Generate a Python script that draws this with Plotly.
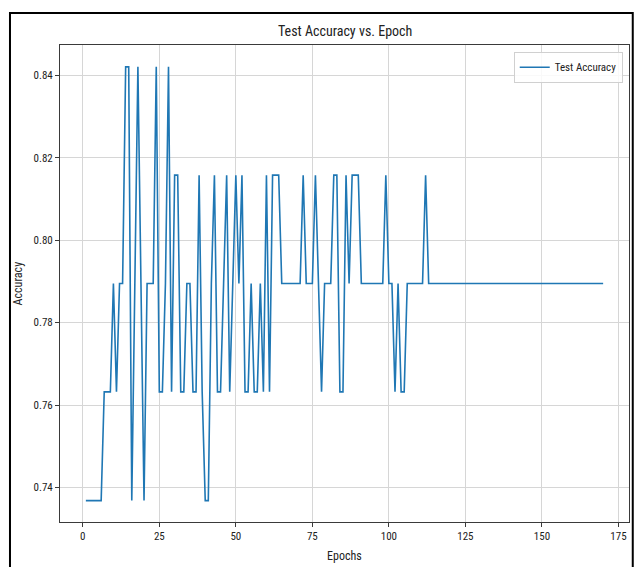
import plotly.graph_objects as go

# ---- data ----
epochs = list(range(1, 171))
test_accuracy = [
    0.7368, 0.7368, 0.7368, 0.7368, 0.7368, 0.7368, 0.7632, 0.7632, 0.7632, 0.7895,  # 1-10
    0.7632, 0.7895, 0.7895, 0.8421, 0.8421, 0.7368, 0.7895, 0.8421, 0.7895, 0.7368,  # 11-20
    0.7895, 0.7895, 0.7895, 0.8421, 0.7632, 0.7632, 0.7895, 0.8421, 0.7632, 0.8158,  # 21-30
    0.8158, 0.7632, 0.7632, 0.7895, 0.7895, 0.7632, 0.7632, 0.8158, 0.7632, 0.7368,  # 31-40
    0.7368, 0.7895, 0.8158, 0.7632, 0.7632, 0.7895, 0.8158, 0.7632, 0.7895, 0.8158,  # 41-50
    0.7895, 0.8158, 0.7632, 0.7632, 0.7895, 0.7632, 0.7632, 0.7895, 0.7632, 0.8158,  # 51-60
    0.7632, 0.8158, 0.8158, 0.8158, 0.7895, 0.7895, 0.7895, 0.7895, 0.7895, 0.7895,  # 61-70
    0.7895, 0.8158, 0.7895, 0.7895, 0.7895, 0.8158, 0.7895, 0.7632, 0.7895, 0.7895,  # 71-80
    0.7895, 0.8158, 0.8158, 0.7632, 0.7632, 0.8158, 0.7895, 0.8158, 0.8158, 0.8158,  # 81-90
    0.7895, 0.7895, 0.7895, 0.7895, 0.7895, 0.7895, 0.7895, 0.7895, 0.8158, 0.7895,  # 91-100
    0.7895, 0.7632, 0.7895, 0.7632, 0.7632, 0.7895, 0.7895, 0.7895, 0.7895, 0.7895,  # 101-110
    0.7895, 0.8158, 0.7895, 0.7895, 0.7895, 0.7895, 0.7895, 0.7895, 0.7895, 0.7895,  # 111-120
    0.7895, 0.7895, 0.7895, 0.7895, 0.7895, 0.7895, 0.7895, 0.7895, 0.7895, 0.7895,  # 121-130
    0.7895, 0.7895, 0.7895, 0.7895, 0.7895, 0.7895, 0.7895, 0.7895, 0.7895, 0.7895,  # 131-140
    0.7895, 0.7895, 0.7895, 0.7895, 0.7895, 0.7895, 0.7895, 0.7895, 0.7895, 0.7895,  # 141-150
    0.7895, 0.7895, 0.7895, 0.7895, 0.7895, 0.7895, 0.7895, 0.7895, 0.7895, 0.7895,  # 151-160
    0.7895, 0.7895, 0.7895, 0.7895, 0.7895, 0.7895, 0.7895, 0.7895, 0.7895, 0.7895,  # 161-170
]
x_ticks = [0, 25, 50, 75, 100, 125, 150, 175]
y_ticks = [0.74, 0.76, 0.78, 0.80, 0.82, 0.84]

title_text = "Test Accuracy vs. Epoch"
x_label = "Epochs"
y_label = "Accuracy"
series_name = "Test Accuracy"

FONT = "Liberation Sans Narrow, Roboto Condensed, Liberation Sans, DejaVu Sans, sans-serif"
GRID = "#d6d6d6"
AXIS = "#3a3a3a"

fig = go.Figure()
fig.add_trace(go.Scatter(
    x=epochs, y=test_accuracy, mode="lines", name=series_name,
    line=dict(color="#1f77b4", width=1.6),
))

fig.update_layout(
    width=638, height=567,
    margin=dict(l=60, r=9, t=45, b=45),
    paper_bgcolor="white", plot_bgcolor="white",
    font=dict(family=FONT, size=11, color="#222222"),
    title=dict(text=title_text, x=0.541, xanchor="center", y=0.945, yanchor="middle",
               font=dict(family=FONT, size=14, color="#222222")),
    showlegend=True,
    legend=dict(x=0.989, xanchor="right", y=0.986, yanchor="top",
                bgcolor="rgba(255,255,255,0.85)", bordercolor="#d0d0d0", borderwidth=1,
                font=dict(family=FONT, size=11, color="#222222"), itemwidth=30),
    xaxis=dict(range=[-7.45, 178.45], tickvals=x_ticks, ticktext=[str(v) for v in x_ticks],
               showgrid=True, gridcolor=GRID, gridwidth=1, zeroline=False,
               showline=True, linecolor=AXIS, linewidth=1, mirror=True,
               ticks="outside", ticklen=4, tickcolor=AXIS),
    yaxis=dict(range=[0.7316, 0.8474], tickvals=y_ticks, tickformat=".2f",
               showgrid=True, gridcolor=GRID, gridwidth=1, zeroline=False,
               showline=True, linecolor=AXIS, linewidth=1, mirror=True,
               ticks="outside", ticklen=4, tickcolor=AXIS),
    annotations=[
        dict(text=x_label, xref="paper", yref="paper", x=0.5, y=-0.072,
             xanchor="center", yanchor="middle", showarrow=False,
             font=dict(family=FONT, size=12, color="#222222")),
        dict(text=y_label, xref="paper", yref="paper", x=-0.074, y=0.5,
             xanchor="center", yanchor="middle", showarrow=False, textangle=-90,
             font=dict(family=FONT, size=12, color="#222222")),
    ],
    shapes=[
        dict(type="rect", xref="paper", yref="paper",
             x0=-0.0879, x1=1.0066, y0=-0.2, y1=1.067,
             line=dict(color="black", width=2), fillcolor="rgba(0,0,0,0)", layer="above"),
    ],
)

fig.write_html(
    "out.html",
    config={"displayModeBar": False},
    post_script="document.body.style.margin='0';document.body.style.padding='0';document.body.style.overflow='hidden';",
)
